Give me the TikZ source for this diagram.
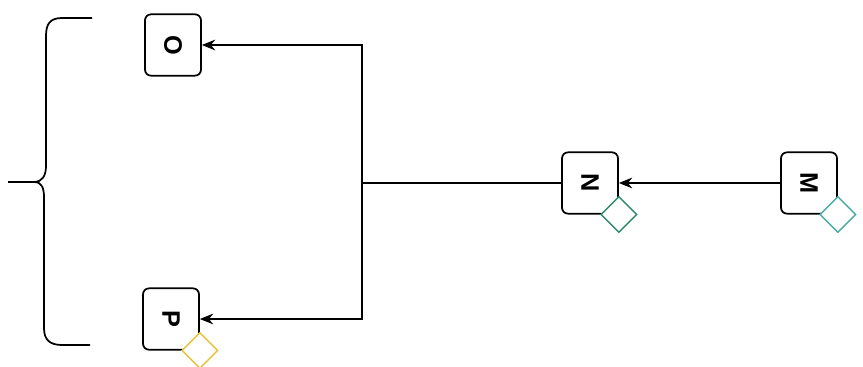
\documentclass[tikz,border=0pt]{standalone}
\usepackage{fontspec}
\setsansfont{Liberation Sans}
\usepackage{tikz}
\usetikzlibrary{arrows.meta,positioning,shapes.geometric}

\definecolor{tagyellow}{HTML}{E6C235}
\definecolor{taggreen}{HTML}{2E8B6A}
\definecolor{tagteal}{HTML}{4AA9A4}

\tikzset{
  stepbox/.style={draw, line width=1.3pt, rounded corners=4.5pt, fill=white,
    minimum width=42pt, minimum height=46pt, inner sep=0pt,
    font=\sffamily\bfseries\fontsize{19}{22}\selectfont},
  tagdiamond/.style={diamond, draw, fill=white, line width=1pt,
    minimum width=27pt, minimum height=27pt, inner sep=0pt},
  link/.style={line width=1.2pt, -{Stealth[length=10pt,width=8pt]}},
}

\begin{document}
\begin{tikzpicture}[x=0.75pt,y=-0.75pt]
\useasboundingbox (0,0) rectangle (863,367);

% Boxes
\node[stepbox] (o) at (173,45) {\rotatebox{-90}{O}};
\node[stepbox] (p) at (171,319) {\rotatebox{-90}{P}};
\node[stepbox] (n) at (590,183) {\rotatebox{-90}{N}};
\node[stepbox] (m) at (809,183) {\rotatebox{-90}{M}};

% Tags
\node[tagdiamond, draw=tagyellow] (ptag) at (p.south east) {};
\node[tagdiamond, draw=taggreen] (ntag) at (n.south east) {};
\node[tagdiamond, draw=tagteal] (mtag) at (m.south east) {};

% Connectors
\coordinate (split) at (362,183);
\draw[link] (m) -- (n);
\draw[line width=1.2pt] (n) -- (split);
\draw[link] (split) |- (o);
\draw[link] (split) |- (p);

% Brace
\coordinate (btop) at (92,18);
\coordinate (btip) at (8,182);
\coordinate (bbot) at (90,345);
\draw[line width=1.3pt] (btop) -- (62,18)
  .. controls (50,18) and (46,24) .. (46,36)
  -- (46,166)
  .. controls (46,176) and (42,182) .. (34,182)
  -- (btip);
\draw[line width=1.3pt] (34,182)
  .. controls (42,182) and (44,188) .. (44,198)
  -- (44,328)
  .. controls (44,340) and (50,345) .. (62,345)
  -- (bbot);

\end{tikzpicture}
\end{document}
